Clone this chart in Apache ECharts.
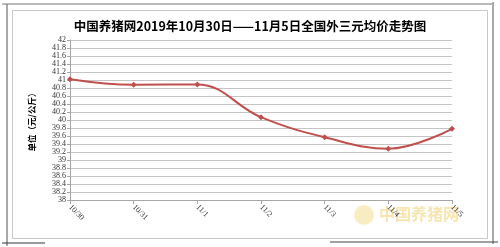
<!DOCTYPE html>
<html><head><meta charset="utf-8">
<script src="https://cdn.jsdelivr.net/npm/echarts@6/dist/echarts.min.js"></script>
<style>html,body{margin:0;padding:0;background:#fff}#c{width:500px;height:247px}</style>
</head><body><div id="c"></div>
<script>
var categories = ['10/30', '10/31', '11/1', '11/2', '11/3', '11/4', '11/5'];
var prices = [41.02, 40.88, 40.89, 40.07, 39.57, 39.28, 39.78];
var titleText = '中国养猪网2019年10月30日——11月5日全国外三元均价走势图';
var yName = '单位（元/公斤）';

var chart = echarts.init(document.getElementById('c'), null, {renderer: 'canvas'});
chart.setOption({
  animation: false,
  backgroundColor: '#fff',
  title: {
    text: titleText, left: 'center', top: 15,
    textStyle: {fontFamily: 'Noto Sans CJK SC', fontWeight: 'bold', fontSize: 12.5, color: '#000'}
  },
  graphic: [
    {type: 'line', shape: {x1: 7, y1: 4, x2: 7, y2: 246}, style: {stroke: '#555', lineWidth: 1}},
    {type: 'line', shape: {x1: 2, y1: 4, x2: 492, y2: 4}, style: {stroke: '#777', lineWidth: 1}},
    {type: 'line', shape: {x1: 2, y1: 243, x2: 45, y2: 243}, style: {stroke: '#333', lineWidth: 1}},
    {type: 'line', shape: {x1: 493, y1: 2, x2: 493, y2: 244}, style: {stroke: '#555', lineWidth: 1}},
    {type: 'line', shape: {x1: 330, y1: 242, x2: 498, y2: 242}, style: {stroke: '#444', lineWidth: 1}},
    {type: 'rect', shape: {x: 12.5, y: 10.5, width: 475, height: 228}, style: {fill: 'none', stroke: '#c8c8c8', lineWidth: 1}},
    {type: 'circle', shape: {cx: 364, cy: 215, r: 10}, style: {fill: 'rgba(240,215,120,0.45)'}, z: 0},
    {type: 'text', left: 379, top: 206, z: 0, style: {text: '中国养猪网', fontFamily: 'Noto Sans CJK SC', fontWeight: 'bold', fontSize: 16, fill: 'rgba(240,205,110,0.55)'}}
  ],
  grid: {left: 70, right: 48, top: 40, bottom: 47},
  xAxis: {
    type: 'category', data: categories, boundaryGap: false,
    axisLine: {lineStyle: {color: '#a6a6a6'}},
    axisTick: {show: true, length: 4, alignWithLabel: true, lineStyle: {color: '#a6a6a6'}},
    axisLabel: {rotate: -45, fontSize: 8, color: '#333', fontFamily: 'Liberation Serif', margin: 6, interval: 0},
    splitLine: {show: false}
  },
  yAxis: {
    type: 'value', min: 38, max: 42, interval: 0.2,
    name: yName, nameLocation: 'middle', nameRotate: 90, nameGap: 34,
    nameTextStyle: {fontFamily: 'Noto Sans CJK SC', fontWeight: 'bold', fontSize: 8.5, color: '#000'},
    axisLine: {show: true, lineStyle: {color: '#a6a6a6'}},
    axisTick: {show: true, inside: false, length: 3, lineStyle: {color: '#a6a6a6'}},
    axisLabel: {fontSize: 8, color: '#333', fontFamily: 'Liberation Serif', margin: 4,
      formatter: function (v) { return String(Math.round(v * 10) / 10); }},
    splitLine: {lineStyle: {color: '#c4c4c4', width: 1}}
  },
  series: [{
    type: 'line', data: prices, smooth: 0.4,
    symbol: 'diamond', symbolSize: 6,
    lineStyle: {color: '#c0504d', width: 2},
    itemStyle: {color: '#c0504d'}
  }]
});
</script></body></html>
